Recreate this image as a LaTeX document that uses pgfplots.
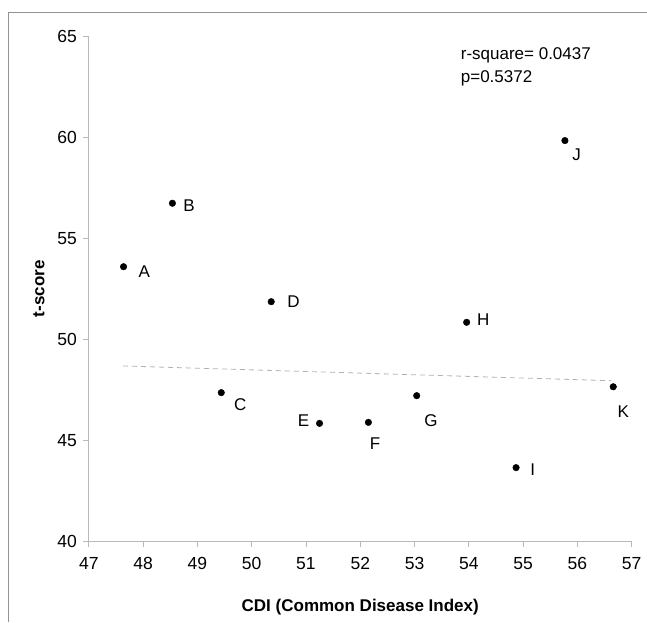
\documentclass[border=0pt]{standalone}
\usepackage{fontspec}
\setmainfont{Liberation Sans}
\usepackage{pgfplots}
\pgfplotsset{compat=1.18}
\usepackage{pgfplotstable}

\pgfplotstableread{
x y lab dx dy
47.64 53.59 A 20.7 -5
48.54 56.73 B 16.7 -2.3
49.44 47.36 C 19 -12.3
50.36 51.86 D 22.3 0
51.25 45.84 E -16 2.7
52.15 45.89 F 6.7 -21.7
53.04 47.21 G 14.3 -25.3
53.96 50.84 H 16.7 3
54.87 43.65 I 16.7 -1.7
55.77 59.83 J 11.7 -14.3
56.66 47.65 K 10 -25
}\pts

\begin{document}
\begin{tikzpicture}
\path[use as bounding box] (-88.8pt,-80.6pt) rectangle ++(647pt,622pt);
\draw[gray!85, line width=0.9pt] (-80.3pt,-80.6pt) -- ++(0,609.6pt) -- ++(638.5pt,0);
\begin{axis}[
  at={(0,0)}, anchor=south west,
  scale only axis, width=542.9pt, height=505.3pt,
  xmin=47, xmax=57, ymin=40, ymax=65,
  xtick={47,48,...,57}, ytick={40,45,...,65},
  axis x line*=bottom, axis y line*=left,
  axis line style={draw=gray!55, line width=0.8pt, -},
  tick align=outside, major tick length=5.5pt,
  tick style={draw=gray!55, line width=0.8pt},
  /pgf/number format/assume math mode=true,
  tick label style={font=\fontsize{17.5}{20}\selectfont},
  xticklabel style={yshift=-7pt},
  yticklabel style={xshift=-3pt},
  xlabel={\bfseries CDI (Common Disease Index)},
  ylabel={\bfseries t-score},
  label style={font=\fontsize{17}{20}\selectfont},
  xlabel style={yshift=-22pt},
  ylabel style={yshift=6pt},
  clip=false,
]
\addplot[gray!60, line width=0.8pt, dash pattern=on 5pt off 4pt] coordinates {(47.63,48.68) (56.63,47.95)};
\addplot[only marks, mark=*, mark size=3.3pt, black,
  nodes near coords, point meta=explicit symbolic,
  visualization depends on={\thisrow{dx} \as \dx},
  visualization depends on={\thisrow{dy} \as \dy},
  every node near coord/.append style={anchor=center, xshift={\dx*1pt}, yshift={\dy*1pt}, font=\fontsize{17}{20}\selectfont, black},
] table[x=x, y=y, meta=lab] {\pts};
\node[anchor=west, font=\fontsize{17}{20}\selectfont, inner sep=0pt] at (axis cs:53.85,64.05) {r-square= 0.0437};
\node[anchor=west, font=\fontsize{17}{20}\selectfont, inner sep=0pt] at (axis cs:53.85,62.93) {p=0.5372};
\end{axis}
\end{tikzpicture}
\end{document}
